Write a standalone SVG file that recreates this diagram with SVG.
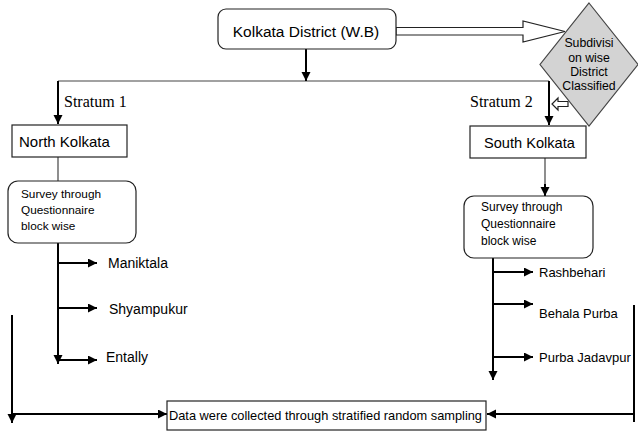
<svg xmlns="http://www.w3.org/2000/svg" width="638" height="432" viewBox="0 0 638 432">
<style>
.box{fill:#fff;stroke:#222;stroke-width:1.2}
.t{font-family:"Liberation Sans",Arial,sans-serif;fill:#000}
.s{font-family:"Liberation Serif","Times New Roman",serif;fill:#000;font-size:16px}
.c{fill:none;stroke:#000;stroke-width:2}
.thin{fill:none;stroke:#444;stroke-width:1.2}
.hollow{fill:#fff;stroke:#222;stroke-width:1.2}
</style>
<defs>
<marker id="ah" markerUnits="userSpaceOnUse" markerWidth="10" markerHeight="10" refX="9" refY="4.5" orient="auto">
<path d="M0,0 L9,4.5 L0,9 z" fill="#000"/>
</marker>
</defs>
<rect width="638" height="432" fill="#fff"/>
<g id="connectors">
<path class="thin" d="M58,81 H549"/>
<path class="c" d="M306,49 V81" marker-end="url(#ah)"/>
<path class="c" d="M58,81 V124" marker-end="url(#ah)"/>
<path class="c" d="M549,81 V125" marker-end="url(#ah)"/>
<path class="hollow" d="M568,101.5 H558 V98 L552,104 L558,110 V106.5 H568 z"/>
<path class="hollow" d="M396,27.5 H523 V21 L565,31.5 L523,42 V35 H396 z"/>
<path class="thin" d="M58,157 V181"/>
<path class="thin" d="M545,158 V185"/>
<path class="c" d="M545,184 V196" marker-end="url(#ah)"/>
<path class="c" d="M58,243 V364" marker-end="url(#ah)"/>
<path class="c" d="M58,263 H97" marker-end="url(#ah)"/>
<path class="c" d="M58,308 H97" marker-end="url(#ah)"/>
<path class="c" d="M58,360 H97" marker-end="url(#ah)"/>
<path class="c" d="M493,258 V380" marker-end="url(#ah)"/>
<path class="c" d="M493,272 H533" marker-end="url(#ah)"/>
<path class="c" d="M493,304 H533" marker-end="url(#ah)"/>
<path class="c" d="M493,357 H533" marker-end="url(#ah)"/>
<path class="c" d="M12,315 V423" marker-end="url(#ah)"/>
<path class="c" d="M12,414 H167" marker-end="url(#ah)"/>
<path class="c" d="M634,305 V422"/>
<path class="c" d="M634,414 H487" marker-end="url(#ah)"/>
</g>
<g id="kolkata">
<rect class="box" x="218" y="9" width="178" height="40" rx="8"/>
<text class="t" x="306" y="37" font-size="15.5" text-anchor="middle">Kolkata District (W.B)</text>
</g>
<g id="diamond">
<path d="M589,3 L638,64.5 L589,126 L540,64.5 z" fill="#d3d3d3" stroke="#444" stroke-width="1.2"/>
<text class="t" font-size="12.3" text-anchor="middle"><tspan x="589" y="47">Subdivisi</tspan><tspan x="589" y="61.5">on wise</tspan><tspan x="589" y="76">District</tspan><tspan x="589" y="90">Classified</tspan></text>
</g>
<g id="stratum1"><text class="s" x="64" y="107">Stratum 1</text></g>
<g id="stratum2"><text class="s" x="470" y="107">Stratum 2</text></g>
<g id="north">
<rect class="box" x="12" y="125" width="115" height="32"/>
<text class="t" x="19" y="147" font-size="15">North Kolkata</text>
</g>
<g id="south">
<rect class="box" x="470" y="126" width="116" height="32"/>
<text class="t" x="484" y="148" font-size="14.6">South Kolkata</text>
</g>
<g id="survey1">
<rect class="box" x="8" y="181" width="128" height="62" rx="10"/>
<text class="t" font-size="11.8"><tspan x="21" y="198">Survey through</tspan><tspan x="21" y="214">Questionnaire</tspan><tspan x="21" y="230">block wise</tspan></text>
</g>
<g id="survey2">
<rect class="box" x="464" y="196" width="129" height="62" rx="10"/>
<text class="t" font-size="12"><tspan x="481" y="211">Survey through</tspan><tspan x="481" y="228">Questionnaire</tspan><tspan x="481" y="245">block wise</tspan></text>
</g>
<g id="maniktala"><text class="t" x="108" y="268" font-size="14">Maniktala</text></g>
<g id="shyampukur"><text class="t" x="109" y="314" font-size="14">Shyampukur</text></g>
<g id="entally"><text class="t" x="106" y="362" font-size="14">Entally</text></g>
<g id="rashbehari"><text class="t" x="539" y="277" font-size="13">Rashbehari</text></g>
<g id="behala"><text class="t" x="539" y="318" font-size="13">Behala Purba</text></g>
<g id="jadavpur"><text class="t" x="539" y="362" font-size="13">Purba Jadavpur</text></g>
<g id="data">
<rect class="box" x="167" y="401" width="319" height="29"/>
<text class="t" x="169" y="420" font-size="12.8">Data were collected through stratified random sampling</text>
</g>
</svg>
